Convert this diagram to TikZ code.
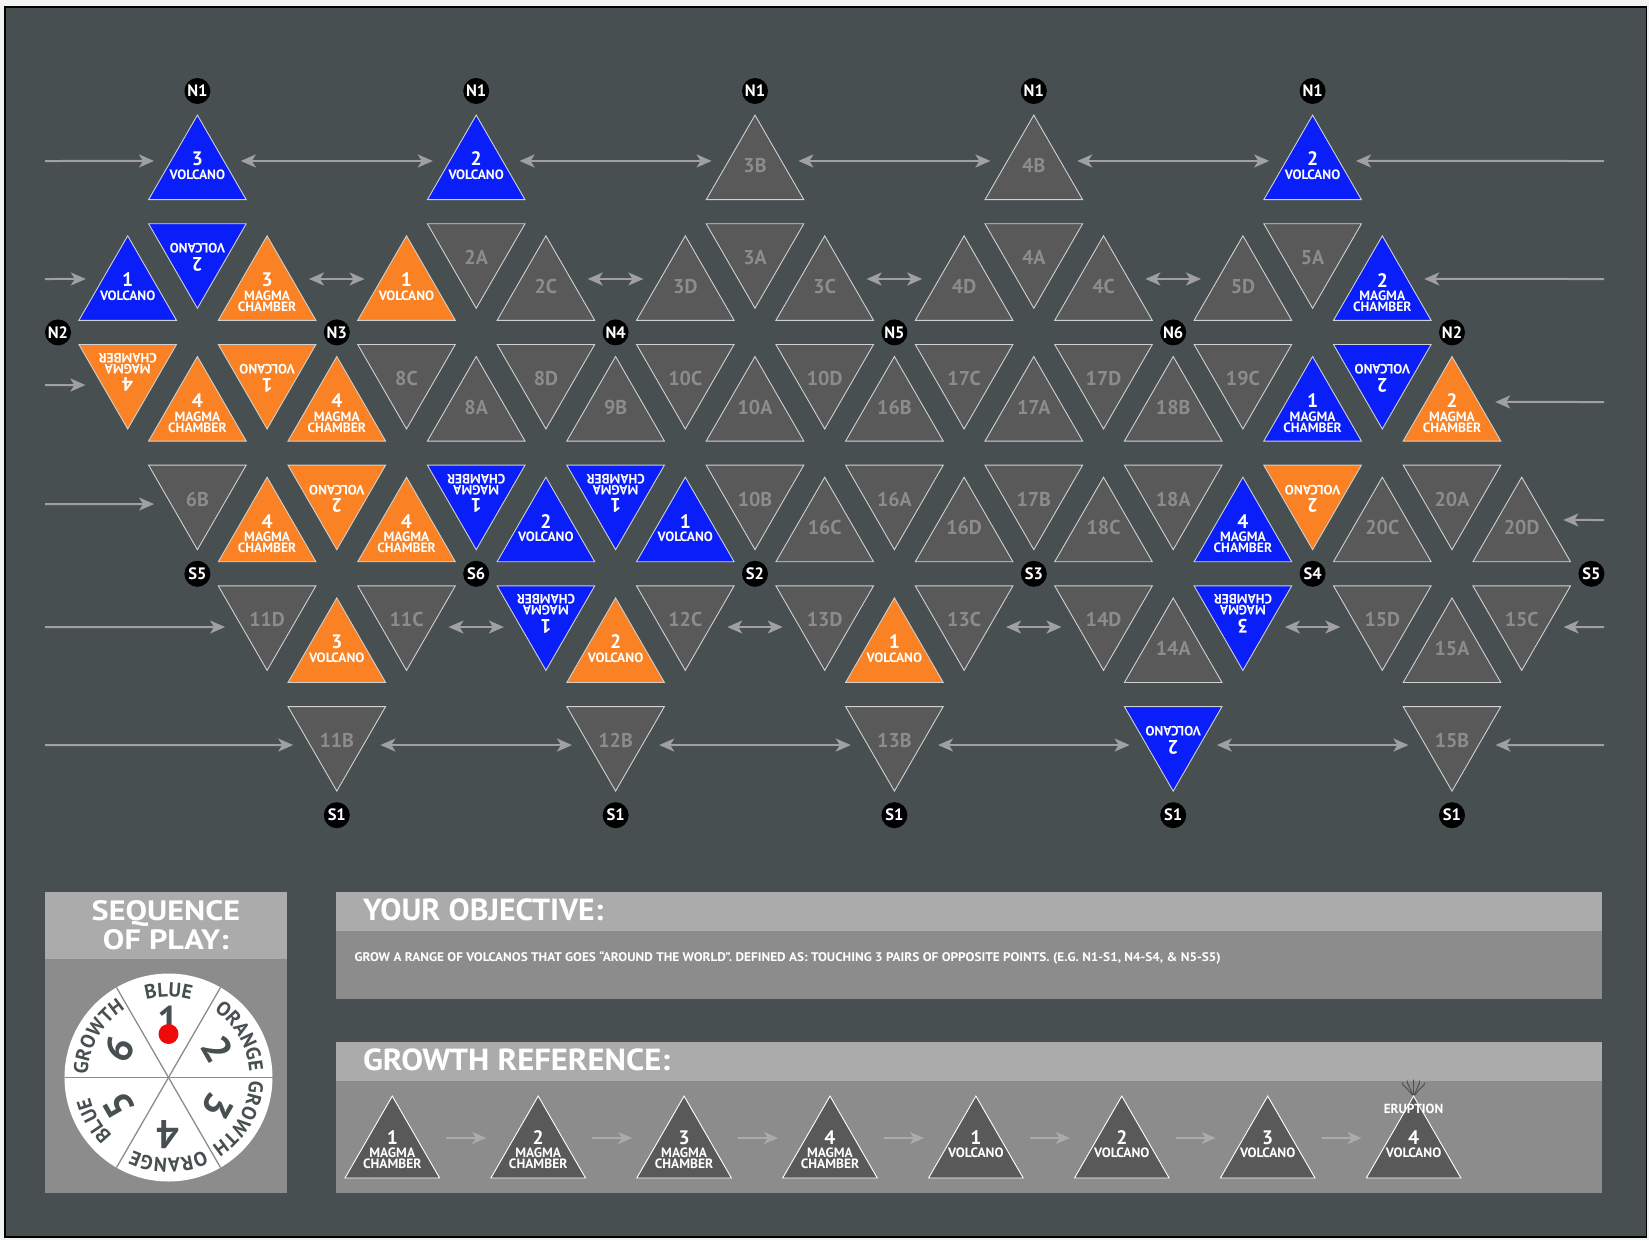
\documentclass[tikz,border=0pt]{standalone}
\usepackage{fontspec}
\setmainfont{PT Sans}
\usetikzlibrary{shapes.geometric, arrows.meta, calc, decorations.text}

\definecolor{bg}{HTML}{474F51}
\definecolor{outerc}{HTML}{F2F2F2}
\definecolor{trigray}{HTML}{595959}
\definecolor{labgray}{HTML}{8C8C8C}
\definecolor{triedge}{HTML}{D0D0D0}
\definecolor{triblue}{HTML}{0A1EFA}
\definecolor{triorange}{HTML}{FA8224}
\definecolor{arrowgray}{HTML}{A0A0A0}
\definecolor{garrowgray}{HTML}{ABABAB}
\definecolor{headgray}{HTML}{ABABAB}
\definecolor{bodygray}{HTML}{8C8C8C}
\definecolor{linegray}{HTML}{8C8C8C}
\definecolor{dotred}{HTML}{EE0A0A}

\newcommand\wfont{\bfseries\fontsize{20}{20}\selectfont}

\newcommand\placeTri[5]{%
  \pgfmathsetmacro\triX{58+139.4*(#3)+69.7*mod((#2)+(1-(#4))/2,2)}%
  \pgfmathsetmacro\triY{91+120.7*(#2)+60.35+20.117*(#4)}%
  \pgfmathsetmacro\triR{90-90*(#4)}%
  \node[tri,#5,shape border rotate=\triR] (#1) at (\triX,\triY) {};%
}
\newcommand\gryTri[5]{\placeTri{#1}{#2}{#3}{#4}{grayfill}%
  \node[glab] at ($(#1.center)+(0,{-5.75*(#4)})$) {#5};}
\newcommand\volTri[6]{\placeTri{#1}{#2}{#3}{#4}{#5}%
  \node[nlab,rotate=\triR] at ($(#1.center)+(0,{-12.5*(#4)})$) {#6};%
  \node[wlab,rotate=\triR] at ($(#1.center)+(0,{3.5*(#4)})$) {VOLCANO};}
\newcommand\magTri[6]{\placeTri{#1}{#2}{#3}{#4}{#5}%
  \node[nlab,rotate=\triR] at ($(#1.center)+(0,{-12*(#4)})$) {#6};%
  \node[wlab,rotate=\triR] at ($(#1.center)+(0,{3.5*(#4)})$) {MAGMA};%
  \node[wlab,rotate=\triR] at ($(#1.center)+(0,{14.5*(#4)})$) {CHAMBER};}

\begin{document}
\begin{tikzpicture}[x=1pt,y=-1pt,
  tri/.style={regular polygon, regular polygon sides=3, minimum size=112.7pt, inner sep=0pt, outer sep=0pt, draw=triedge, line width=0.9pt},
  grayfill/.style={fill=trigray},
  bluefill/.style={fill=triblue},
  orangefill/.style={fill=triorange},
  glab/.style={text=labgray, font=\bfseries\fontsize{20}{20}\selectfont, inner sep=0pt},
  nlab/.style={text=white, font=\bfseries\fontsize{19.5}{19.5}\selectfont, inner sep=0pt},
  wlab/.style={text=white, font=\bfseries\fontsize{13.5}{13.5}\selectfont, inner sep=0pt},
  pole/.style={circle, fill=black, minimum size=26pt, inner sep=0pt, text=white, font=\bfseries\fontsize{16.5}{16.5}\selectfont},
  arr/.style={draw=arrowgray, line width=2pt, -{Stealth[length=15pt,width=13pt,inset=4pt]}},
  darr/.style={draw=arrowgray, line width=2pt, {Stealth[length=15pt,width=13pt,inset=4pt]}-{Stealth[length=15pt,width=13pt,inset=4pt]}},
  garr/.style={draw=garrowgray, line width=2pt, -{Stealth[length=14pt,width=12pt,inset=4pt]}},
  gtri/.style={regular polygon, regular polygon sides=3, minimum size=109.3pt, inner sep=0pt, outer sep=0pt, fill=trigray, draw=white, line width=0.9pt},
  wnum/.style={text=bg, font=\bfseries\fontsize{40}{40}\selectfont, inner sep=0pt},
]
\useasboundingbox (0,0) rectangle (1649,1240);
\fill[outerc] (0,0) rectangle (1649,1240);
\draw[fill=bg, draw=black, line width=1.5pt] (5,7) rectangle (1646.5,1237);

% ---------- band 0 ----------
\volTri{u0x1}{0}{1}{1}{bluefill}{3}
\volTri{u0x3}{0}{3}{1}{bluefill}{2}
\gryTri{u0x5}{0}{5}{1}{3B}
\gryTri{u0x7}{0}{7}{1}{4B}
\volTri{u0x9}{0}{9}{1}{bluefill}{2}
% ---------- band 1 ----------
\volTri{u1x0}{1}{0}{1}{bluefill}{1}
\magTri{u1x1}{1}{1}{1}{orangefill}{3}
\volTri{u1x2}{1}{2}{1}{orangefill}{1}
\gryTri{u1x3}{1}{3}{1}{2C}
\gryTri{u1x4}{1}{4}{1}{3D}
\gryTri{u1x5}{1}{5}{1}{3C}
\gryTri{u1x6}{1}{6}{1}{4D}
\gryTri{u1x7}{1}{7}{1}{4C}
\gryTri{u1x8}{1}{8}{1}{5D}
\magTri{u1x9}{1}{9}{1}{bluefill}{2}
\volTri{d1x1}{1}{1}{-1}{bluefill}{2}
\gryTri{d1x3}{1}{3}{-1}{2A}
\gryTri{d1x5}{1}{5}{-1}{3A}
\gryTri{d1x7}{1}{7}{-1}{4A}
\gryTri{d1x9}{1}{9}{-1}{5A}
% ---------- band 2 ----------
\magTri{u2x1}{2}{1}{1}{orangefill}{4}
\magTri{u2x2}{2}{2}{1}{orangefill}{4}
\gryTri{u2x3}{2}{3}{1}{8A}
\gryTri{u2x4}{2}{4}{1}{9B}
\gryTri{u2x5}{2}{5}{1}{10A}
\gryTri{u2x6}{2}{6}{1}{16B}
\gryTri{u2x7}{2}{7}{1}{17A}
\gryTri{u2x8}{2}{8}{1}{18B}
\magTri{u2x9}{2}{9}{1}{bluefill}{1}
\magTri{u2x10}{2}{10}{1}{orangefill}{2}
\magTri{d2x0}{2}{0}{-1}{orangefill}{4}
\volTri{d2x1}{2}{1}{-1}{orangefill}{1}
\gryTri{d2x2}{2}{2}{-1}{8C}
\gryTri{d2x3}{2}{3}{-1}{8D}
\gryTri{d2x4}{2}{4}{-1}{10C}
\gryTri{d2x5}{2}{5}{-1}{10D}
\gryTri{d2x6}{2}{6}{-1}{17C}
\gryTri{d2x7}{2}{7}{-1}{17D}
\gryTri{d2x8}{2}{8}{-1}{19C}
\volTri{d2x9}{2}{9}{-1}{bluefill}{2}
% ---------- band 3 ----------
\magTri{u3x1}{3}{1}{1}{orangefill}{4}
\magTri{u3x2}{3}{2}{1}{orangefill}{4}
\volTri{u3x3}{3}{3}{1}{bluefill}{2}
\volTri{u3x4}{3}{4}{1}{bluefill}{1}
\gryTri{u3x5}{3}{5}{1}{16C}
\gryTri{u3x6}{3}{6}{1}{16D}
\gryTri{u3x7}{3}{7}{1}{18C}
\magTri{u3x8}{3}{8}{1}{bluefill}{4}
\gryTri{u3x9}{3}{9}{1}{20C}
\gryTri{u3x10}{3}{10}{1}{20D}
\gryTri{d3x1}{3}{1}{-1}{6B}
\volTri{d3x2}{3}{2}{-1}{orangefill}{2}
\magTri{d3x3}{3}{3}{-1}{bluefill}{1}
\magTri{d3x4}{3}{4}{-1}{bluefill}{1}
\gryTri{d3x5}{3}{5}{-1}{10B}
\gryTri{d3x6}{3}{6}{-1}{16A}
\gryTri{d3x7}{3}{7}{-1}{17B}
\gryTri{d3x8}{3}{8}{-1}{18A}
\volTri{d3x9}{3}{9}{-1}{orangefill}{2}
\gryTri{d3x10}{3}{10}{-1}{20A}
% ---------- band 4 ----------
\volTri{u4x2}{4}{2}{1}{orangefill}{3}
\volTri{u4x4}{4}{4}{1}{orangefill}{2}
\volTri{u4x6}{4}{6}{1}{orangefill}{1}
\gryTri{u4x8}{4}{8}{1}{14A}
\gryTri{u4x10}{4}{10}{1}{15A}
\gryTri{d4x1}{4}{1}{-1}{11D}
\gryTri{d4x2}{4}{2}{-1}{11C}
\magTri{d4x3}{4}{3}{-1}{bluefill}{1}
\gryTri{d4x4}{4}{4}{-1}{12C}
\gryTri{d4x5}{4}{5}{-1}{13D}
\gryTri{d4x6}{4}{6}{-1}{13C}
\gryTri{d4x7}{4}{7}{-1}{14D}
\magTri{d4x8}{4}{8}{-1}{bluefill}{3}
\gryTri{d4x9}{4}{9}{-1}{15D}
\gryTri{d4x10}{4}{10}{-1}{15C}
% ---------- band 5 ----------
\gryTri{d5x2}{5}{2}{-1}{11B}
\gryTri{d5x4}{5}{4}{-1}{12B}
\gryTri{d5x6}{5}{6}{-1}{13B}
\volTri{d5x8}{5}{8}{-1}{bluefill}{2}
\gryTri{d5x10}{5}{10}{-1}{15B}

% ---------- pole markers ----------
\node[pole] (pn1a) at (197.4,91) {N1};
\node[pole] (pn1b) at (476.2,91) {N1};
\node[pole] (pn1c) at (755,91) {N1};
\node[pole] (pn1d) at (1033.8,91) {N1};
\node[pole] (pn1e) at (1312.6,91) {N1};
\node[pole] (pn2a) at (58,332.4) {N2};
\node[pole] (pn3) at (336.8,332.4) {N3};
\node[pole] (pn4) at (615.6,332.4) {N4};
\node[pole] (pn5) at (894.4,332.4) {N5};
\node[pole] (pn6) at (1173.2,332.4) {N6};
\node[pole] (pn2b) at (1452,332.4) {N2};
\node[pole] (ps5a) at (197.4,573.8) {S5};
\node[pole] (ps6) at (476.2,573.8) {S6};
\node[pole] (ps2) at (755,573.8) {S2};
\node[pole] (ps3) at (1033.8,573.8) {S3};
\node[pole] (ps4) at (1312.6,573.8) {S4};
\node[pole] (ps5b) at (1591.4,573.8) {S5};
\node[pole] (ps1a) at (336.8,815.2) {S1};
\node[pole] (ps1b) at (615.6,815.2) {S1};
\node[pole] (ps1c) at (894.4,815.2) {S1};
\node[pole] (ps1d) at (1173.2,815.2) {S1};
\node[pole] (ps1e) at (1452,815.2) {S1};

% ---------- arrows ----------
\coordinate (L0) at (45,161);  \coordinate (R0) at (1604,161);
\coordinate (L1) at (45,279);  \coordinate (R1) at (1604,279);
\coordinate (L2) at (45,385);  \coordinate (R2) at (1604,402);
\coordinate (L3) at (45,504);  \coordinate (R3) at (1604,520);
\coordinate (L4) at (45,627);  \coordinate (R4) at (1604,627);
\coordinate (L5) at (45,745);  \coordinate (R5) at (1604,745);

\draw[arr] (L0) -- ($(u0x1.center)+(-43.4,-10.5)$);
\draw[darr] ($(u0x1.center)+(43.4,-10.5)$) -- ($(u0x3.center)+(-43.4,-10.5)$);
\draw[darr] ($(u0x3.center)+(43.4,-10.5)$) -- ($(u0x5.center)+(-43.4,-10.5)$);
\draw[darr] ($(u0x5.center)+(43.4,-10.5)$) -- ($(u0x7.center)+(-43.4,-10.5)$);
\draw[darr] ($(u0x7.center)+(43.4,-10.5)$) -- ($(u0x9.center)+(-43.4,-10.5)$);
\draw[arr] (R0) -- ($(u0x9.center)+(43.4,-10.5)$);

\draw[arr] (L1) -- ($(u1x0.center)+(-41.9,-13.2)$);
\draw[darr] ($(u1x1.center)+(41.9,-13.2)$) -- ($(u1x2.center)+(-41.9,-13.2)$);
\draw[darr] ($(u1x3.center)+(41.9,-13.2)$) -- ($(u1x4.center)+(-41.9,-13.2)$);
\draw[darr] ($(u1x5.center)+(41.9,-13.2)$) -- ($(u1x6.center)+(-41.9,-13.2)$);
\draw[darr] ($(u1x7.center)+(41.9,-13.2)$) -- ($(u1x8.center)+(-41.9,-13.2)$);
\draw[arr] (R1) -- ($(u1x9.center)+(41.9,-13.2)$);

\draw[arr] (L2) -- ($(d2x0.center)+(-42.3,12.4)$);
\draw[arr] (R2) -- ($(u2x10.center)+(43.2,-10.9)$);

\draw[arr] (L3) -- ($(d3x1.center)+(-43.3,10.7)$);
\draw[arr] (R3) -- ($(u3x10.center)+(41.7,-13.6)$);

\draw[arr] (L4) -- ($(d4x1.center)+(-42,13)$);
\draw[darr] ($(d4x2.center)+(42,13)$) -- ($(d4x3.center)+(-42,13)$);
\draw[darr] ($(d4x4.center)+(42,13)$) -- ($(d4x5.center)+(-42,13)$);
\draw[darr] ($(d4x6.center)+(42,13)$) -- ($(d4x7.center)+(-42,13)$);
\draw[darr] ($(d4x8.center)+(42,13)$) -- ($(d4x9.center)+(-42,13)$);
\draw[arr] (R4) -- ($(d4x10.center)+(42,13)$);

\draw[arr] (L5) -- ($(d5x2.center)+(-43.6,10.3)$);
\draw[darr] ($(d5x2.center)+(43.6,10.3)$) -- ($(d5x4.center)+(-43.6,10.3)$);
\draw[darr] ($(d5x4.center)+(43.6,10.3)$) -- ($(d5x6.center)+(-43.6,10.3)$);
\draw[darr] ($(d5x6.center)+(43.6,10.3)$) -- ($(d5x8.center)+(-43.6,10.3)$);
\draw[darr] ($(d5x8.center)+(43.6,10.3)$) -- ($(d5x10.center)+(-43.6,10.3)$);
\draw[arr] (R5) -- ($(d5x10.center)+(43.6,10.3)$);

% ---------- panels ----------
\fill[bodygray] (45,892) rectangle (286.7,1193);
\fill[headgray] (45,892) rectangle (286.7,959);
\fill[bodygray] (335.5,892) rectangle (1602,999);
\fill[headgray] (335.5,892) rectangle (1602,931);
\fill[bodygray] (335.5,1042) rectangle (1602,1193);
\fill[headgray] (335.5,1042) rectangle (1602,1081);

\node[text=white, align=center, inner sep=0pt, xscale=1.15, font=\bfseries\fontsize{28}{29.3}\selectfont] (seqhead) at (165.9,925.5) {SEQUENCE\\OF PLAY:};
\node[text=white, anchor=base west, inner sep=0pt, xscale=1.04, font=\bfseries\fontsize{30.5}{30.5}\selectfont] (objhead) at (362.8,920.5) {YOUR OBJECTIVE:};
\node[text=white, anchor=base west, inner sep=0pt, xscale=1.06, font=\bfseries\fontsize{12.5}{12.5}\selectfont] (objtext) at (354.4,961.5) {GROW A RANGE OF VOLCANOS THAT GOES “AROUND THE WORLD”. DEFINED AS: TOUCHING 3 PAIRS OF OPPOSITE POINTS. (E.G. N1-S1, N4-S4, \& N5-S5)};
\node[text=white, anchor=base west, inner sep=0pt, xscale=1.07, font=\bfseries\fontsize{30.5}{30.5}\selectfont] (grohead) at (362.8,1070.5) {GROWTH REFERENCE:};

% ---------- growth reference ----------
\foreach \k in {1,...,8} {
  \pgfmathsetmacro\gx{392.3+145.9*(\k-1)}
  \node[gtri] (g\k) at (\gx,1150.7) {};
}
\foreach \k/\n in {1/1,2/2,3/3,4/4} {
  \node[nlab] at ($(g\k.center)+(0,-13)$) {\n};
  \node[wlab] at ($(g\k.center)+(0,2.5)$) {MAGMA};
  \node[wlab] at ($(g\k.center)+(0,13.5)$) {CHAMBER};
}
\foreach \k/\n in {5/1,6/2,7/3,8/4} {
  \node[nlab] at ($(g\k.center)+(0,-13)$) {\n};
  \node[wlab] at ($(g\k.center)+(0,2.5)$) {VOLCANO};
}
\foreach \k [evaluate=\k as \kn using int(\k+1)] in {1,...,7} {
  \draw[garr] ($(g\k.center)+(54,-12.7)$) -- ($(g\kn.center)+(-52,-12.7)$);
}
\node[text=white, inner sep=0pt, font=\bfseries\fontsize{13.2}{13.2}\selectfont] (erupt) at (1413.5,1108.5) {ERUPTION};
\begin{scope}[draw=bg, line width=0.9pt]
\draw (1412.3,1095) .. controls (1409,1091) and (1407,1088) .. (1403,1085) .. controls (1402,1084) .. (1402.5,1082.5);
\draw (1412.9,1095) .. controls (1410.5,1090) and (1409,1086) .. (1407.5,1083) .. controls (1407,1082) .. (1407.5,1080.5);
\draw (1413.6,1095) .. controls (1413,1090) and (1414,1085) .. (1413.5,1079.5);
\draw (1414.3,1095) .. controls (1416.5,1090) and (1418,1086) .. (1419.5,1083) .. controls (1420,1082) .. (1419.5,1080.5);
\draw (1414.9,1095) .. controls (1418,1091) and (1420,1088) .. (1424,1085) .. controls (1425,1084) .. (1424.5,1082.5);
\end{scope}

% ---------- wheel ----------
\begin{scope}[shift={(168.5,1077.5)}]
\begin{scope}[y=1pt]
\fill[white] (0,0) circle[radius=104];
\foreach \a in {0,60,...,300} \draw[linegray, line width=1.3pt] (0,0) -- (\a:104);
\path[decorate, decoration={text along path, text align=center, text color=bg, text={|\wfont|BLUE}}] (120:81) arc[start angle=120, end angle=60, radius=81];
\path[decorate, decoration={text along path, text align=center, text color=bg, text={|\wfont|ORANGE}}] (60:81) arc[start angle=60, end angle=0, radius=81];
\path[decorate, decoration={text along path, text align=center, text color=bg, text={|\wfont|GROWTH}}] (0:81) arc[start angle=0, end angle=-60, radius=81];
\path[decorate, decoration={text along path, text align=center, text color=bg, text={|\wfont|ORANGE}}] (-60:81) arc[start angle=-60, end angle=-120, radius=81];
\path[decorate, decoration={text along path, text align=center, text color=bg, text={|\wfont|BLUE}}] (-120:81) arc[start angle=-120, end angle=-180, radius=81];
\path[decorate, decoration={text along path, text align=center, text color=bg, text={|\wfont|GROWTH}}] (180:81) arc[start angle=180, end angle=120, radius=81];
\node[wnum] (w1) at (90:57) {1};
\node[wnum, rotate=-60] (w2) at (30:57) {2};
\node[wnum, rotate=-120] (w3) at (-30:57) {3};
\node[wnum, rotate=180] (w4) at (-90:57) {4};
\node[wnum, rotate=120] (w5) at (-150:57) {5};
\node[wnum, rotate=60] (w6) at (150:57) {6};
\fill[dotred] (0,43.5) circle[radius=10];
\end{scope}
\end{scope}
\end{tikzpicture}
\end{document}
